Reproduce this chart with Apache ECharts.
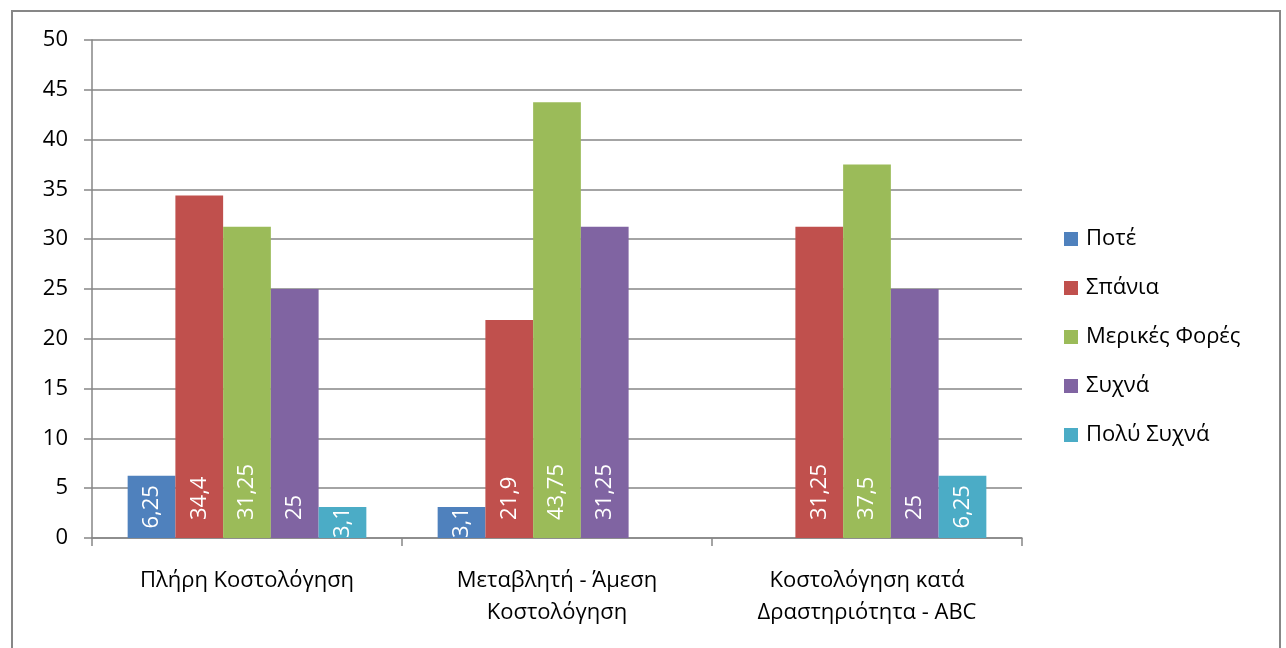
<!DOCTYPE html>
<html>
<head>
<meta charset="utf-8">
<script src="https://cdn.jsdelivr.net/npm/echarts@6/dist/echarts.min.js"></script>
<style>
  html, body { margin: 0; padding: 0; background: #fff; }
  #chart { width: 1286px; height: 648px; }
</style>
</head>
<body>
<div id="chart"></div>
<script>
// Costing methods (x axis categories)
const categories = ['Πλήρη Κοστολόγηση', 'Μεταβλητή - Άμεση\nΚοστολόγηση', 'Κοστολόγηση κατά\nΔραστηριότητα - ABC'];
// Frequency answers (series names) and their values per category (null = no bar)
const seriesNames = ['Ποτέ', 'Σπάνια', 'Μερικές Φορές', 'Συχνά', 'Πολύ Συχνά'];
const pote = [6.25, 3.1, null];
const spania = [34.4, 21.9, 31.25];
const merikes = [31.25, 43.75, 37.5];
const sychna = [25, 31.25, 25];
const polySychna = [3.1, null, 6.25];
const yTicks = { min: 0, max: 50, interval: 5 };

const colors = ['#4F81BD', '#C0504D', '#9BBB59', '#8064A2', '#4BACC6'];
const FONT = 'Open Sans';
const FS = 22;

function fmt(v) { return String(v).replace('.', ','); }

function makeData(vals) {
  return vals.map(v => {
    if (v === null) return null;
    // short bars get their label centered; taller ones anchored near the base
    const label = v < 10
      ? { position: 'inside', align: 'center', verticalAlign: 'middle' }
      : { position: 'insideBottom', align: 'left', verticalAlign: 'middle', distance: 18 };
    return { value: v, label };
  });
}

const allValues = [pote, spania, merikes, sychna, polySychna];

const chart = echarts.init(document.getElementById('chart'), null, { renderer: 'canvas' });
chart.setOption({
  backgroundColor: '#fff',
  animation: false,
  color: colors,
  textStyle: { fontFamily: FONT },
  graphic: [{
    type: 'rect',
    shape: { x: 12, y: 11, width: 1268, height: 700 },
    style: { fill: 'none', stroke: '#878787', lineWidth: 2 },
    silent: true
  }],
  grid: { left: 92, right: 264, top: 40, bottom: 110 },
  legend: {
    orient: 'vertical',
    left: 1064,
    top: 228,
    padding: 0,
    itemWidth: 14,
    itemHeight: 14,
    itemGap: 27,
    icon: 'rect',
    textStyle: { fontSize: FS, color: '#000', fontFamily: FONT, padding: [0, 0, 0, 3] },
    data: seriesNames
  },
  xAxis: {
    type: 'category',
    data: categories,
    axisLine: { lineStyle: { color: '#868686', width: 1.5 } },
    axisTick: { show: true, length: 8, lineStyle: { color: '#868686', width: 1.5 } },
    axisLabel: { color: '#000', fontSize: FS, fontFamily: FONT, margin: 27, lineHeight: 32, interval: 0 }
  },
  yAxis: {
    type: 'value',
    min: yTicks.min,
    max: yTicks.max,
    interval: yTicks.interval,
    axisLine: { show: true, lineStyle: { color: '#868686', width: 1.5 } },
    axisTick: { show: true, length: 8, lineStyle: { color: '#868686', width: 1.5 } },
    splitLine: { lineStyle: { color: '#868686', width: 1.5 } },
    axisLabel: { color: '#000', fontSize: FS, fontFamily: FONT, margin: 24 }
  },
  series: seriesNames.map((name, i) => ({
    name,
    type: 'bar',
    barGap: '0%',
    barCategoryGap: '23%',
    data: makeData(allValues[i]),
    label: {
      show: true,
      rotate: 90,
      color: '#fff',
      fontSize: FS,
      fontFamily: FONT,
      formatter: p => fmt(p.value)
    }
  }))
});
</script>
</body>
</html>
